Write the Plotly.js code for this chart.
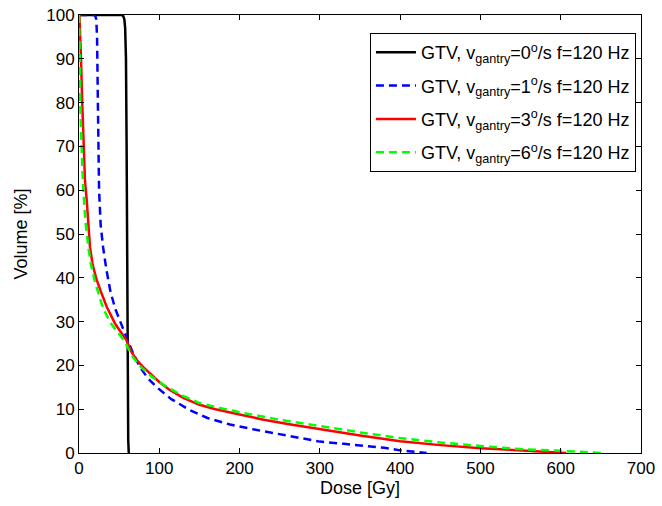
<!DOCTYPE html>
<html><head><meta charset="utf-8">
<script src="https://cdn.plot.ly/plotly-3.0.1.min.js"></script>
<style>html,body{margin:0;padding:0;background:#fff}#chart{width:662px;height:506px}</style>
</head><body><div id="chart"></div>
<script>
const names = [
  "GTV, v<sub>gantry</sub>=0<sup>o</sup>/s f=120 Hz",
  "GTV, v<sub>gantry</sub>=1<sup>o</sup>/s f=120 Hz",
  "GTV, v<sub>gantry</sub>=3<sup>o</sup>/s f=120 Hz",
  "GTV, v<sub>gantry</sub>=6<sup>o</sup>/s f=120 Hz"
];
const dose0 = [0, 53, 55, 56.5, 57.5, 58.5, 59.3, 60, 60.7, 61.3, 62];
const vol0  = [100, 100, 99.8, 99, 97, 90, 70, 40, 15, 3, 0];

const dose1 = [0, 20, 21.5, 22.5, 23.5, 25, 27, 30, 34, 39, 45, 51, 60, 68, 76, 86, 97, 115, 138, 160, 188, 220, 250, 280, 300, 330, 350, 380, 400, 415, 433];
const vol1  = [100, 100, 99, 95, 80, 60, 52, 47, 42, 37, 33, 30, 26, 22.5, 19.6, 17, 15, 12.3, 9.8, 8, 6.5, 5.3, 4.3, 3.4, 2.6, 2.1, 1.7, 1.2, 0.6, 0.3, 0];

const dose3 = [0.5, 1.5, 2.5, 4, 5.5, 7.5, 9.6, 11.5, 13.7, 17, 22, 28, 34.5, 45, 59, 65, 72, 80, 88, 100, 113, 130, 150, 170, 200, 230, 260, 300, 350, 400, 450, 500, 550, 580, 600, 607];
const vol3  = [100, 96, 90, 80, 70, 62, 57.8, 52, 47, 43, 39.5, 36.5, 33.4, 29.5, 25.8, 23.2, 21.2, 19.6, 18.2, 16.2, 14.4, 12.6, 11, 10, 8.8, 7.6, 6.6, 5.4, 4, 2.7, 1.8, 1.1, 0.6, 0.35, 0.15, 0];

const dose6 = [0, 0.5, 1, 1.5, 2.5, 4, 5.4, 8, 11.6, 15, 20, 25, 30, 40, 57, 65, 75, 90, 110, 130, 150, 175, 200, 250, 300, 350, 400, 450, 500, 550, 600, 630, 653];
const vol6  = [100, 97, 90, 80, 72, 66, 60, 53, 47, 43, 39, 36, 33, 29.5, 25.5, 22.5, 20, 17.5, 15, 13, 11.4, 10.3, 9.3, 7.6, 6.1, 4.7, 3.4, 2.4, 1.6, 0.9, 0.5, 0.25, 0];

const xTicks = [0, 100, 200, 300, 400, 500, 600, 700];
const yTicks = [0, 10, 20, 30, 40, 50, 60, 70, 80, 90, 100];

const traces = [
  {x: dose0, y: vol0, name: names[0], legendgroup: 'g0', mode: 'lines', line: {color: '#000000', width: 2.5}},
  {x: dose1, y: vol1, name: names[1], legendgroup: 'g1', mode: 'lines', line: {color: '#0000ff', width: 2.5, dash: '8px,5px'}},
  {x: dose3, y: vol3, name: names[2], legendgroup: 'g3', mode: 'lines', line: {color: '#ff0000', width: 2.5}},
  {x: dose6, y: vol6, name: names[3], legendgroup: 'g6', mode: 'lines', line: {color: '#00ff00', width: 2.5, dash: '8px,5px'}}
];

const FONT = 'Liberation Sans, Arial, sans-serif';
const axisCommon = {
  showgrid: false, zeroline: false, showline: true, mirror: 'ticks',
  linecolor: '#000', linewidth: 1, ticks: 'inside', ticklen: 5, tickcolor: '#000',
  tickfont: {family: FONT, size: 17, color: '#000'}
};

const layout = {
  width: 662, height: 506,
  margin: {l: 79, r: 21, t: 15, b: 53},
  paper_bgcolor: '#fff', plot_bgcolor: '#fff',
  font: {family: FONT, size: 17, color: '#000'},
  xaxis: Object.assign({}, axisCommon, {
    range: [0, 700], tickvals: xTicks, ticktext: xTicks.map(String),
    title: {text: 'Dose [Gy]', font: {family: FONT, size: 18}, standoff: 0}
  }),
  yaxis: Object.assign({}, axisCommon, {
    range: [0, 100], tickvals: yTicks, ticktext: yTicks.map(String),
    title: {text: 'Volume [%]', font: {family: FONT, size: 18}, standoff: 13}
  }),
  showlegend: true,
  legend: {
    x: 0.991, y: 0.959, xanchor: 'right', yanchor: 'top',
    bgcolor: '#fff', bordercolor: '#000', borderwidth: 1,
    font: {family: FONT, size: 18, color: '#000'},
    tracegroupgap: 7, itemwidth: 40
  }
};

Plotly.newPlot('chart', traces, layout, {displayModeBar: false, staticPlot: true});
</script>
</body></html>
